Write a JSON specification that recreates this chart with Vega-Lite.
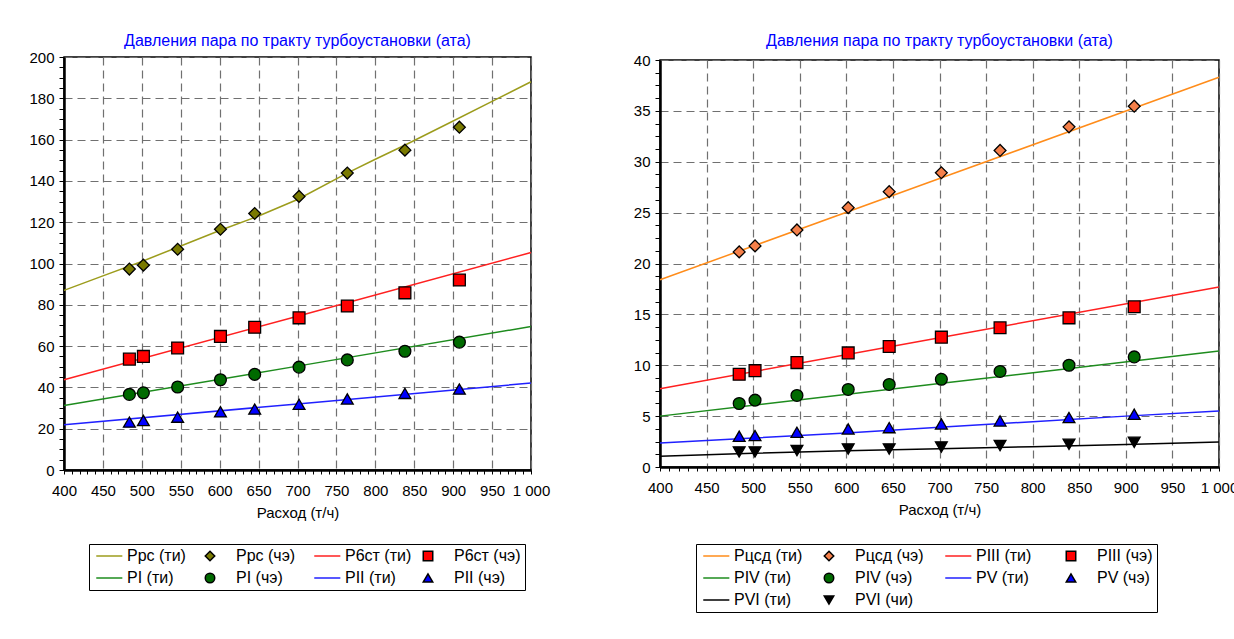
{
  "$schema": "https://vega.github.io/schema/vega-lite/v6.json",
  "background": "white",
  "padding": {"left": 28, "top": 32, "right": 5, "bottom": 5},
  "spacing": 129,
  "bounds": "flush",
  "center": true,
  "config": {
    "font": "Liberation Sans",
    "view": {"stroke": "black", "strokeWidth": 1.5},
    "axis": {
      "labelFont": "Liberation Sans", "labelFontSize": 15, "labelColor": "black",
      "titleFont": "Liberation Sans", "titleFontSize": 15, "titleFontWeight": "normal", "titleColor": "black",
      "domainColor": "black", "domainWidth": 2.5, "tickColor": "black", "tickWidth": 1, "tickSize": 5,
      "gridColor": "#707070", "gridDash": [8, 5], "gridWidth": 1.2,
      "labelOverlap": false, "labelFlush": false
    },
    "legend": {
      "columns": 4, "direction": "horizontal", "gridAlign": "all",
      "labelFont": "Liberation Sans", "labelFontSize": 16, "labelColor": "black",
      "strokeColor": "black", "padding": 4, "symbolStrokeWidth": 1.5, "rowPadding": 6,
      "columnPadding": 8, "labelOffset": 18, "symbolSize": 90, "labelLimit": 300
    },
    "title": {"font": "Liberation Sans", "fontSize": 16, "fontWeight": "normal", "color": "#0000ff"}
  },
  "datasets": {
    "left_lines": [
      {"series": "Ррс (ти)", "flow": 400, "p": 87},
      {"series": "Ррс (ти)", "flow": 450, "p": 94},
      {"series": "Ррс (ти)", "flow": 500, "p": 101},
      {"series": "Ррс (ти)", "flow": 550, "p": 108.5},
      {"series": "Ррс (ти)", "flow": 600, "p": 116},
      {"series": "Ррс (ти)", "flow": 650, "p": 123},
      {"series": "Ррс (ти)", "flow": 700, "p": 131},
      {"series": "Ррс (ти)", "flow": 765, "p": 144},
      {"series": "Ррс (ти)", "flow": 800, "p": 150.5},
      {"series": "Ррс (ти)", "flow": 839, "p": 157.5},
      {"series": "Ррс (ти)", "flow": 900, "p": 169},
      {"series": "Ррс (ти)", "flow": 950, "p": 178.5},
      {"series": "Ррс (ти)", "flow": 1000, "p": 188},
      {"series": "Р6ст (ти)", "flow": 400, "p": 43.7},
      {"series": "Р6ст (ти)", "flow": 700, "p": 74.5},
      {"series": "Р6ст (ти)", "flow": 1000, "p": 105.3},
      {"series": "PI (ти)", "flow": 400, "p": 31.2},
      {"series": "PI (ти)", "flow": 700, "p": 50.3},
      {"series": "PI (ти)", "flow": 1000, "p": 69.5},
      {"series": "PII (ти)", "flow": 400, "p": 21.9},
      {"series": "PII (ти)", "flow": 700, "p": 32},
      {"series": "PII (ти)", "flow": 1000, "p": 42.1}
    ],
    "left_points": [
      {"series": "Ррс (чэ)", "flow": 484, "p": 97.3},
      {"series": "Ррс (чэ)", "flow": 502, "p": 99.2},
      {"series": "Ррс (чэ)", "flow": 546, "p": 106.9},
      {"series": "Ррс (чэ)", "flow": 601, "p": 116.6},
      {"series": "Ррс (чэ)", "flow": 645, "p": 124.2},
      {"series": "Ррс (чэ)", "flow": 702, "p": 132.5},
      {"series": "Ррс (чэ)", "flow": 764, "p": 143.8},
      {"series": "Ррс (чэ)", "flow": 838, "p": 154.9},
      {"series": "Ррс (чэ)", "flow": 908, "p": 166},
      {"series": "Р6ст (чэ)", "flow": 484, "p": 53.7},
      {"series": "Р6ст (чэ)", "flow": 502, "p": 55},
      {"series": "Р6ст (чэ)", "flow": 546, "p": 59.1},
      {"series": "Р6ст (чэ)", "flow": 601, "p": 64.7},
      {"series": "Р6ст (чэ)", "flow": 645, "p": 69.1},
      {"series": "Р6ст (чэ)", "flow": 702, "p": 73.7},
      {"series": "Р6ст (чэ)", "flow": 764, "p": 79.4},
      {"series": "Р6ст (чэ)", "flow": 838, "p": 85.8},
      {"series": "Р6ст (чэ)", "flow": 908, "p": 92},
      {"series": "PI (чэ)", "flow": 484, "p": 36.6},
      {"series": "PI (чэ)", "flow": 502, "p": 37.4},
      {"series": "PI (чэ)", "flow": 546, "p": 40.2},
      {"series": "PI (чэ)", "flow": 601, "p": 43.7},
      {"series": "PI (чэ)", "flow": 645, "p": 46.3},
      {"series": "PI (чэ)", "flow": 702, "p": 49.8},
      {"series": "PI (чэ)", "flow": 764, "p": 53.3},
      {"series": "PI (чэ)", "flow": 838, "p": 57.5},
      {"series": "PI (чэ)", "flow": 908, "p": 61.9},
      {"series": "PII (чэ)", "flow": 484, "p": 23.2},
      {"series": "PII (чэ)", "flow": 502, "p": 24},
      {"series": "PII (чэ)", "flow": 546, "p": 25.6},
      {"series": "PII (чэ)", "flow": 601, "p": 28.2},
      {"series": "PII (чэ)", "flow": 645, "p": 29.5},
      {"series": "PII (чэ)", "flow": 702, "p": 31.8},
      {"series": "PII (чэ)", "flow": 764, "p": 34.4},
      {"series": "PII (чэ)", "flow": 838, "p": 37.1},
      {"series": "PII (чэ)", "flow": 908, "p": 39.2}
    ],
    "right_lines": [
      {"series": "Рцсд (ти)", "flow": 400, "p": 18.4},
      {"series": "Рцсд (ти)", "flow": 700, "p": 28.35},
      {"series": "Рцсд (ти)", "flow": 1000, "p": 38.3},
      {"series": "PIII (ти)", "flow": 400, "p": 7.7},
      {"series": "PIII (ти)", "flow": 700, "p": 12.7},
      {"series": "PIII (ти)", "flow": 1000, "p": 17.7},
      {"series": "PIV (ти)", "flow": 400, "p": 5.0},
      {"series": "PIV (ти)", "flow": 700, "p": 8.2},
      {"series": "PIV (ти)", "flow": 1000, "p": 11.4},
      {"series": "PV (ти)", "flow": 400, "p": 2.36},
      {"series": "PV (ти)", "flow": 500, "p": 2.85},
      {"series": "PV (ти)", "flow": 600, "p": 3.35},
      {"series": "PV (ти)", "flow": 700, "p": 3.9},
      {"series": "PV (ти)", "flow": 800, "p": 4.45},
      {"series": "PV (ти)", "flow": 900, "p": 5.0},
      {"series": "PV (ти)", "flow": 1000, "p": 5.5},
      {"series": "PVI (ти)", "flow": 400, "p": 1.05},
      {"series": "PVI (ти)", "flow": 500, "p": 1.35},
      {"series": "PVI (ти)", "flow": 600, "p": 1.6},
      {"series": "PVI (ти)", "flow": 700, "p": 1.8},
      {"series": "PVI (ти)", "flow": 800, "p": 2.0},
      {"series": "PVI (ти)", "flow": 900, "p": 2.2},
      {"series": "PVI (ти)", "flow": 1000, "p": 2.46}
    ],
    "right_points": [
      {"series": "Рцсд (чэ)", "flow": 485, "p": 21.14},
      {"series": "Рцсд (чэ)", "flow": 502, "p": 21.73},
      {"series": "Рцсд (чэ)", "flow": 547, "p": 23.3},
      {"series": "Рцсд (чэ)", "flow": 602, "p": 25.49},
      {"series": "Рцсд (чэ)", "flow": 646, "p": 27.06},
      {"series": "Рцсд (чэ)", "flow": 702, "p": 28.92},
      {"series": "Рцсд (чэ)", "flow": 765, "p": 31.11},
      {"series": "Рцсд (чэ)", "flow": 839, "p": 33.43},
      {"series": "Рцсд (чэ)", "flow": 909, "p": 35.46},
      {"series": "PIII (чэ)", "flow": 485, "p": 9.11},
      {"series": "PIII (чэ)", "flow": 502, "p": 9.47},
      {"series": "PIII (чэ)", "flow": 547, "p": 10.26},
      {"series": "PIII (чэ)", "flow": 602, "p": 11.21},
      {"series": "PIII (чэ)", "flow": 646, "p": 11.84},
      {"series": "PIII (чэ)", "flow": 702, "p": 12.76},
      {"series": "PIII (чэ)", "flow": 765, "p": 13.68},
      {"series": "PIII (чэ)", "flow": 839, "p": 14.66},
      {"series": "PIII (чэ)", "flow": 909, "p": 15.75},
      {"series": "PIV (чэ)", "flow": 485, "p": 6.24},
      {"series": "PIV (чэ)", "flow": 502, "p": 6.57},
      {"series": "PIV (чэ)", "flow": 547, "p": 7.03},
      {"series": "PIV (чэ)", "flow": 602, "p": 7.62},
      {"series": "PIV (чэ)", "flow": 646, "p": 8.11},
      {"series": "PIV (чэ)", "flow": 702, "p": 8.62},
      {"series": "PIV (чэ)", "flow": 765, "p": 9.39},
      {"series": "PIV (чэ)", "flow": 839, "p": 10.0},
      {"series": "PIV (чэ)", "flow": 909, "p": 10.82},
      {"series": "PV (чэ)", "flow": 485, "p": 3.02},
      {"series": "PV (чэ)", "flow": 502, "p": 3.09},
      {"series": "PV (чэ)", "flow": 547, "p": 3.41},
      {"series": "PV (чэ)", "flow": 602, "p": 3.74},
      {"series": "PV (чэ)", "flow": 646, "p": 3.87},
      {"series": "PV (чэ)", "flow": 702, "p": 4.23},
      {"series": "PV (чэ)", "flow": 765, "p": 4.53},
      {"series": "PV (чэ)", "flow": 839, "p": 4.86},
      {"series": "PV (чэ)", "flow": 909, "p": 5.19},
      {"series": "PVI (чи)", "flow": 485, "p": 1.48},
      {"series": "PVI (чи)", "flow": 502, "p": 1.48},
      {"series": "PVI (чи)", "flow": 547, "p": 1.61},
      {"series": "PVI (чи)", "flow": 602, "p": 1.77},
      {"series": "PVI (чи)", "flow": 646, "p": 1.77},
      {"series": "PVI (чи)", "flow": 702, "p": 1.97},
      {"series": "PVI (чи)", "flow": 765, "p": 2.1},
      {"series": "PVI (чи)", "flow": 839, "p": 2.23},
      {"series": "PVI (чи)", "flow": 909, "p": 2.43}
    ]
  },
  "hconcat": [
    {
      "width": 467,
      "height": 413,
      "title": {"text": "Давления пара по тракту турбоустановки (ата)", "offset": 1},
      "encoding": {
        "x": {
          "field": "flow", "type": "quantitative",
          "scale": {"domain": [400, 1000], "nice": false, "zero": false},
          "axis": {
            "title": "Расход (т/ч)",
            "values": [400,410,420,430,440,450,460,470,480,490,500,510,520,530,540,550,560,570,580,590,600,610,620,630,640,650,660,670,680,690,700,710,720,730,740,750,760,770,780,790,800,810,820,830,840,850,860,870,880,890,900,910,920,930,940,950,960,970,980,990,1000],
            "labelExpr": "datum.value % 50 === 0 ? (datum.value === 1000 ? '1 000' : datum.label) : ''",
            "gridOpacity": {"condition": {"test": "datum.value % 50 === 0", "value": 1}, "value": 0},
            "labelPadding": 9, "titlePadding": 7, "tickSize": 4
          }
        },
        "y": {
          "field": "p", "type": "quantitative",
          "scale": {"domain": [0, 200], "nice": false, "zero": false},
          "axis": {
            "title": null,
            "values": [0,5,10,15,20,25,30,35,40,45,50,55,60,65,70,75,80,85,90,95,100,105,110,115,120,125,130,135,140,145,150,155,160,165,170,175,180,185,190,195,200],
            "labelExpr": "datum.value % 20 === 0 ? datum.label : ''",
            "gridOpacity": {"condition": {"test": "datum.value % 20 === 0", "value": 1}, "value": 0},
            "labelPadding": 5
          }
        }
      },
      "layer": [
        {
          "data": {"name": "left_lines"},
          "mark": {"type": "line", "strokeWidth": 1.5},
          "encoding": {
            "stroke": {
              "field": "series", "type": "nominal",
              "scale": {
                "domain": ["Ррс (ти)", "Ррс (чэ)", "Р6ст (ти)", "Р6ст (чэ)", "PI (ти)", "PI (чэ)", "PII (ти)", "PII (чэ)"],
                "range": ["#9c9c1c", "black", "#ff2020", "black", "#1e8c1e", "black", "#2020ff", "black"]
              },
              "legend": {"title": null, "orient": "none", "legendX": 25, "legendY": 487}
            }
          }
        },
        {
          "data": {"name": "left_points"},
          "mark": {"type": "point", "filled": true, "size": 140, "strokeWidth": 1.3, "opacity": 1},
          "encoding": {
            "stroke": {
              "field": "series", "type": "nominal",
              "scale": {
                "domain": ["Ррс (ти)", "Ррс (чэ)", "Р6ст (ти)", "Р6ст (чэ)", "PI (ти)", "PI (чэ)", "PII (ти)", "PII (чэ)"],
                "range": ["#9c9c1c", "black", "#ff2020", "black", "#1e8c1e", "black", "#2020ff", "black"]
              },
              "legend": {"title": null, "orient": "none", "legendX": 25, "legendY": 487}
            },
            "fill": {
              "field": "series", "type": "nominal",
              "scale": {
                "domain": ["Ррс (ти)", "Ррс (чэ)", "Р6ст (ти)", "Р6ст (чэ)", "PI (ти)", "PI (чэ)", "PII (ти)", "PII (чэ)"],
                "range": ["#9c9c1c", "#7a7a00", "#ff2020", "#ff0000", "#1e8c1e", "#006a00", "#2020ff", "#0000ff"]
              },
              "legend": {"title": null, "orient": "none", "legendX": 25, "legendY": 487}
            },
            "shape": {
              "field": "series", "type": "nominal",
              "scale": {
                "domain": ["Ррс (ти)", "Ррс (чэ)", "Р6ст (ти)", "Р6ст (чэ)", "PI (ти)", "PI (чэ)", "PII (ти)", "PII (чэ)"],
                "range": ["M-1,0H4.5", "diamond", "M-1,0H4.5", "square", "M-1,0H4.5", "circle", "M-1,0H4.5", "triangle-up"]
              },
              "legend": {"title": null, "orient": "none", "legendX": 25, "legendY": 487}
            }
          }
        }
      ]
    },
    {
      "width": 559,
      "height": 407,
      "title": {"text": "Давления пара по тракту турбоустановки (ата)", "offset": 4},
      "encoding": {
        "x": {
          "field": "flow", "type": "quantitative",
          "scale": {"domain": [400, 1000], "nice": false, "zero": false},
          "axis": {
            "title": "Расход (т/ч)",
            "values": [400,410,420,430,440,450,460,470,480,490,500,510,520,530,540,550,560,570,580,590,600,610,620,630,640,650,660,670,680,690,700,710,720,730,740,750,760,770,780,790,800,810,820,830,840,850,860,870,880,890,900,910,920,930,940,950,960,970,980,990,1000],
            "labelExpr": "datum.value % 50 === 0 ? (datum.value === 1000 ? '1 000' : datum.label) : ''",
            "gridOpacity": {"condition": {"test": "datum.value % 50 === 0", "value": 1}, "value": 0},
            "labelPadding": 9, "titlePadding": 7, "tickSize": 4
          }
        },
        "y": {
          "field": "p", "type": "quantitative",
          "scale": {"domain": [0, 40], "nice": false, "zero": false},
          "axis": {
            "title": null,
            "values": [0,1.25,2.5,3.75,5,6.25,7.5,8.75,10,11.25,12.5,13.75,15,16.25,17.5,18.75,20,21.25,22.5,23.75,25,26.25,27.5,28.75,30,31.25,32.5,33.75,35,36.25,37.5,38.75,40],
            "labelExpr": "datum.value % 5 === 0 ? datum.label : ''",
            "gridOpacity": {"condition": {"test": "datum.value % 5 === 0", "value": 1}, "value": 0},
            "labelPadding": 5
          }
        }
      },
      "layer": [
        {
          "data": {"name": "right_lines"},
          "mark": {"type": "line", "strokeWidth": 1.5},
          "encoding": {
            "stroke": {
              "field": "series", "type": "nominal",
              "scale": {
                "domain": ["Рцсд (ти)", "Рцсд (чэ)", "PIII (ти)", "PIII (чэ)", "PIV (ти)", "PIV (чэ)", "PV (ти)", "PV (чэ)", "PVI (ти)", "PVI (чи)"],
                "range": ["#ff8c1a", "black", "#ff2020", "black", "#1e8c1e", "black", "#2020ff", "black", "#000000", "black"]
              },
              "legend": {"title": null, "orient": "none", "legendX": 36, "legendY": 484, "columnPadding": 18}
            }
          }
        },
        {
          "data": {"name": "right_points"},
          "mark": {"type": "point", "filled": true, "size": 140, "strokeWidth": 1.3, "opacity": 1},
          "encoding": {
            "stroke": {
              "field": "series", "type": "nominal",
              "scale": {
                "domain": ["Рцсд (ти)", "Рцсд (чэ)", "PIII (ти)", "PIII (чэ)", "PIV (ти)", "PIV (чэ)", "PV (ти)", "PV (чэ)", "PVI (ти)", "PVI (чи)"],
                "range": ["#ff8c1a", "black", "#ff2020", "black", "#1e8c1e", "black", "#2020ff", "black", "#000000", "black"]
              },
              "legend": {"title": null, "orient": "none", "legendX": 36, "legendY": 484, "columnPadding": 18}
            },
            "fill": {
              "field": "series", "type": "nominal",
              "scale": {
                "domain": ["Рцсд (ти)", "Рцсд (чэ)", "PIII (ти)", "PIII (чэ)", "PIV (ти)", "PIV (чэ)", "PV (ти)", "PV (чэ)", "PVI (ти)", "PVI (чи)"],
                "range": ["#ff8c1a", "#f5804a", "#ff2020", "#ff0000", "#1e8c1e", "#006a00", "#2020ff", "#0000ff", "#000000", "#000000"]
              },
              "legend": {"title": null, "orient": "none", "legendX": 36, "legendY": 484, "columnPadding": 18}
            },
            "shape": {
              "field": "series", "type": "nominal",
              "scale": {
                "domain": ["Рцсд (ти)", "Рцсд (чэ)", "PIII (ти)", "PIII (чэ)", "PIV (ти)", "PIV (чэ)", "PV (ти)", "PV (чэ)", "PVI (ти)", "PVI (чи)"],
                "range": ["M-1,0H4.5", "diamond", "M-1,0H4.5", "square", "M-1,0H4.5", "circle", "M-1,0H4.5", "triangle-up", "M-1,0H4.5", "triangle-down"]
              },
              "legend": {"title": null, "orient": "none", "legendX": 36, "legendY": 484, "columnPadding": 18}
            }
          }
        }
      ]
    }
  ],
  "resolve": {
    "scale": {"x": "independent", "y": "independent", "fill": "independent", "stroke": "independent", "shape": "independent"},
    "legend": {"fill": "independent", "stroke": "independent", "shape": "independent"}
  }
}
